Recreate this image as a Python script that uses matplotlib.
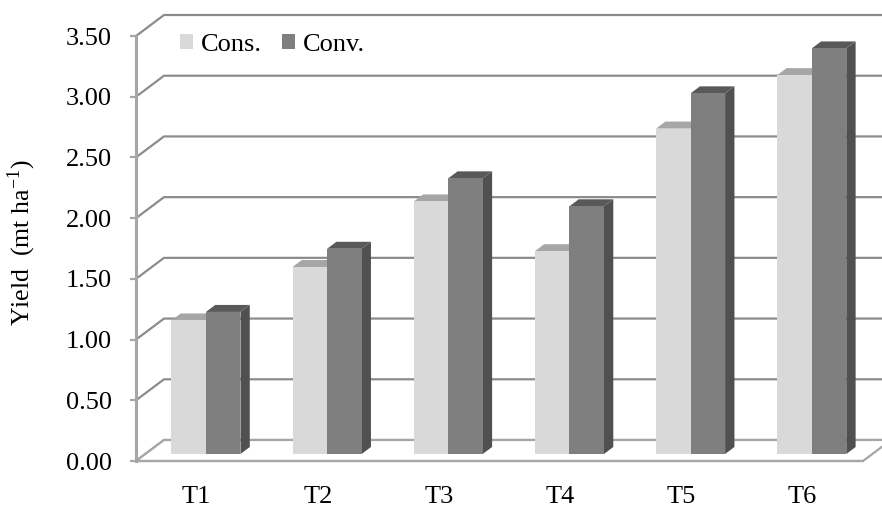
import matplotlib.pyplot as plt
from matplotlib.patches import Polygon, Patch

plt.rcParams['font.family'] = ['Liberation Serif', 'DejaVu Serif']
plt.rcParams['mathtext.fontset'] = 'stix'

categories = ['T1', 'T2', 'T3', 'T4', 'T5', 'T6']
cons = [1.10, 1.54, 2.08, 1.67, 2.68, 3.12]
conv = [1.17, 1.69, 2.27, 2.04, 2.97, 3.34]
yticks = [0.0, 0.5, 1.0, 1.5, 2.0, 2.5, 3.0, 3.5]

W, H = 882, 507
fig = plt.figure(figsize=(W / 100, H / 100), dpi=100)
# front plane of the 3d box, in pixels
left, right, bottom, top = 136, 863, 461, 36
ax = fig.add_axes([left / W, 1 - bottom / H, (right - left) / W, (bottom - top) / H])
ax.set_xlim(0, len(categories))
ax.set_ylim(0, 3.5)

# depth of the box, in data units
DX = 28 / ((right - left) / len(categories))
DY = 21 / ((bottom - top) / 3.5)
grid_c = '#8c8c8c'

# back wall grid + side wall diagonals
for t in yticks:
    ax.plot([0, DX, len(categories) + DX + 1], [t, t + DY, t + DY],
            color=grid_c, lw=1.6, clip_on=False, zorder=1)

# floor
floor = Polygon([(0, 0), (len(categories), 0), (len(categories) + DX, DY), (DX, DY)],
                closed=True, facecolor='white', edgecolor='#a6a6a6', lw=1.6,
                clip_on=False, zorder=2)
ax.add_patch(floor)


def bar3d(x0, w, v, front, topc, side):
    a, b = 1 / 3, 2 / 3
    ax.add_patch(Polygon([(x0 + w + a * DX, a * DY), (x0 + w + b * DX, b * DY),
                          (x0 + w + b * DX, v + b * DY), (x0 + w + a * DX, v + a * DY)],
                         facecolor=side, edgecolor='none', clip_on=False, zorder=3))
    ax.add_patch(Polygon([(x0 + a * DX, v + a * DY), (x0 + w + a * DX, v + a * DY),
                          (x0 + w + b * DX, v + b * DY), (x0 + b * DX, v + b * DY)],
                         facecolor=topc, edgecolor='none', clip_on=False, zorder=3))
    ax.add_patch(Polygon([(x0 + a * DX, a * DY), (x0 + w + a * DX, a * DY),
                          (x0 + w + a * DX, v + a * DY), (x0 + a * DX, v + a * DY)],
                         facecolor=front, edgecolor='none', clip_on=False, zorder=3))


w = 0.285
for i in range(len(categories)):
    c = i + 0.5
    bar3d(c - w, w, cons[i], '#d9d9d9', '#a6a6a6', '#b0b0b0')
    bar3d(c, w, conv[i], '#7f7f7f', '#595959', '#505050')

# front axis
for s in ['top', 'right']:
    ax.spines[s].set_visible(False)
ax.spines['left'].set_color('#a6a6a6')
ax.spines['left'].set_linewidth(2.2)
ax.spines['bottom'].set_color('#a6a6a6')
ax.spines['bottom'].set_linewidth(1.6)
ax.spines['left'].set_zorder(5)

ax.set_yticks(yticks)
ax.set_yticklabels(['%.2f' % t for t in yticks])
ax.tick_params(axis='y', direction='out', length=4.5, width=1.6, color='#a6a6a6',
               pad=13, labelsize=19)
ax.set_xticks([i + 0.5 for i in range(len(categories))])
ax.set_xticklabels(categories)
ax.tick_params(axis='x', length=0, pad=18, labelsize=19)

fig.text(22 / W, 1 - 243 / H, 'Yield  (mt ha$^{\\mathregular{-1}}$)', rotation=90,
         ha='center', va='center', fontsize=18.5)

handles = [Patch(facecolor='#d9d9d9', label='Cons.'), Patch(facecolor='#7f7f7f', label='Conv.')]
fig.legend(handles=handles, loc='center left', bbox_to_anchor=(180 / W, 1 - 45 / H),
           ncol=2, frameon=False, fontsize=19, handlelength=0.5, handleheight=0.5,
           handletextpad=0.3, columnspacing=0.75, borderpad=0, borderaxespad=0)

fig.savefig('out.png', dpi=100)
